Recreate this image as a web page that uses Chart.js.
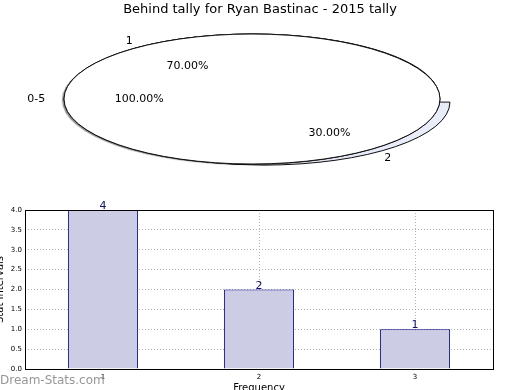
<!DOCTYPE html>
<html>
<head>
<meta charset="utf-8">
<script src="https://cdn.jsdelivr.net/npm/chart.js@4/dist/chart.umd.min.js"></script>
<style>
html,body{margin:0;padding:0;width:520px;height:390px;overflow:hidden;background:#fff;}
canvas{position:absolute;}
#pieC,#pieA,#pieB{left:0;top:0;}
#bars{left:-6px;top:195px;}
</style>
</head>
<body>
<canvas id="bars" width="526" height="205"></canvas>
<canvas id="pieC" width="520" height="200"></canvas>
<canvas id="pieA" width="520" height="200"></canvas>
<canvas id="pieB" width="520" height="200"></canvas>
<script>
// ---- data ----
const chartTitle = 'Behind tally for Ryan Bastinac - 2015 tally';
const pieBaseLabels = ['0-5'];
const pieBaseValues = [100];
const pieOverLabels = ['1'];
const pieOverValues = [100];
const pieLabels = ['1', '2'];
const pieValues = [70, 30];
const pieExplode = [0, 0.1];
const barCategories = ['1', '2', '3'];
const barValues = [4, 2, 1];
const yTickStep = 0.5;
const yMax = 4;
const xAxisTitle = 'Frequency';
const yAxisTitle = 'Stat Intervals';
const watermark = 'Dream-Stats.com';

Chart.defaults.font.family = '"DejaVu Sans", sans-serif';
Chart.defaults.color = '#000';

const PIE_R = 100;
const pieViews = [];

function ellipseView(view) {
  return {
    id: 'ellipseView',
    beforeDatasetsDraw(chart) {
      const ctx = chart.ctx;
      const el = chart.getDatasetMeta(0).data[0];
      ctx.save();
      ctx.translate(view.cx, view.cy);
      ctx.scale(view.rx / el.outerRadius, view.ry / el.outerRadius);
      ctx.translate(-el.x, -el.y);
      if (view.shadow) {
        ctx.shadowColor = 'rgba(0,0,0,0.45)';
        ctx.shadowOffsetX = -2;
        ctx.shadowOffsetY = 1;
        ctx.shadowBlur = 1;
      }
    },
    afterDatasetsDraw(chart) {
      const ctx = chart.ctx;
      ctx.restore();
      chart.getDatasetMeta(0).data.forEach(el => {
        const R = el.outerRadius;
        const mid = (el.startAngle + el.endAngle) / 2;
        const off = (el.options.offset || 0) / 4;
        const full = el.endAngle - el.startAngle >= Math.PI * 2 - 1e-6;
        ctx.save();
        ctx.translate(view.cx, view.cy);
        ctx.scale(view.rx / R, view.ry / R);
        ctx.translate(-el.x + Math.cos(mid) * off, -el.y + Math.sin(mid) * off);
        ctx.beginPath();
        if (!full) ctx.moveTo(el.x, el.y);
        ctx.arc(el.x, el.y, R, el.startAngle, el.endAngle);
        if (!full) ctx.closePath();
        ctx.restore();
        ctx.lineWidth = 1;
        ctx.strokeStyle = '#111';
        ctx.stroke();
      });
    }
  };
}

function makePie(id, labels, values, colors, rotation, explode, view) {
  const chart = new Chart(document.getElementById(id), {
    type: 'pie',
    data: {
      labels: labels,
      datasets: [{
        data: values,
        backgroundColor: colors,
        borderWidth: 0,
        offset: explode.map(e => e * PIE_R * 4),
        clip: false
      }]
    },
    options: {
      responsive: false,
      animation: false,
      devicePixelRatio: 1,
      radius: PIE_R,
      rotation: rotation,
      events: [],
      plugins: {
        legend: { display: false },
        tooltip: { enabled: false },
        title: view.title ? {
          display: true, text: chartTitle, color: '#000',
          font: { size: 13, weight: 'normal' }, padding: { top: 2, bottom: 0 }
        } : { display: false }
      }
    },
    plugins: [ellipseView(view)].concat(view.extra || [])
  });
  view.chart = chart;
  pieViews.push(view);
  return chart;
}

const pieLabelPlugin = {
  id: 'pieLabels',
  afterDraw(chart) {
    const ctx = chart.ctx;
    ctx.save();
    ctx.font = '11px "DejaVu Sans"';
    ctx.fillStyle = '#000';
    ctx.textBaseline = 'middle';
    pieViews.forEach(v => {
      const meta = v.chart.getDatasetMeta(0);
      const labels = v.chart.data.labels;
      const values = v.chart.data.datasets[0].data;
      const total = values.reduce((a, b) => a + b, 0);
      meta.data.forEach((el, i) => {
        const mid = (el.startAngle + el.endAngle) / 2;
        const ex = ((el.options.offset || 0) / 4) / el.outerRadius;
        const px = f => v.cx + (f + ex) * v.rx * Math.cos(mid);
        const py = f => v.cy + (f + ex) * v.ry * Math.sin(mid);
        ctx.textAlign = 'center';
        ctx.fillText((values[i] / total * 100).toFixed(2) + '%', px(0.6), py(0.6));
        ctx.textAlign = Math.cos(mid) > 0 ? 'left' : 'right';
        ctx.fillText(labels[i], px(1.1), py(1.1));
      });
    });
    ctx.restore();
  }
};

// bottom-most: two-slice pie (exploded slice peeks out)
makePie('pieC', pieLabels, pieValues, ['#ffffff', '#e8edf9'], 198, pieExplode,
  { cx: 253, cy: 97, rx: 186, ry: 63, shadow: false });
// 100% pies on top
makePie('pieA', pieBaseLabels, pieBaseValues, ['#ffffff'], 90, [0],
  { cx: 252, cy: 99, rx: 188, ry: 65, shadow: true });
makePie('pieB', pieOverLabels, pieOverValues, ['#ffffff'], 90, [0],
  { cx: 252, cy: 99, rx: 188, ry: 65, shadow: false, title: true, extra: [pieLabelPlugin] });

// ---- bar chart ----
const boxPlugin = {
  id: 'box',
  afterDraw(chart) {
    const ctx = chart.ctx;
    const ca = chart.chartArea;
    ctx.save();
    ctx.strokeStyle = '#000';
    ctx.lineWidth = 1;
    ctx.strokeRect(ca.left + 0.5, ca.top + 0.5, ca.right - ca.left, ca.bottom - ca.top);
    // value labels
    ctx.font = '11px "DejaVu Sans"';
    ctx.fillStyle = '#10106e';
    ctx.textAlign = 'center';
    ctx.textBaseline = 'alphabetic';
    const meta = chart.getDatasetMeta(0);
    meta.data.forEach((bar, i) => {
      ctx.fillText(String(chart.data.datasets[0].data[i]), bar.x, bar.y - 1);
    });
    // watermark
    ctx.font = '12px "DejaVu Sans"';
    ctx.fillStyle = '#979797';
    ctx.textAlign = 'left';
    ctx.fillText(watermark, 6, 189);
    ctx.restore();
  }
};

new Chart(document.getElementById('bars'), {
  type: 'bar',
  data: {
    labels: barCategories,
    datasets: [{
      data: barValues,
      backgroundColor: 'rgb(204,204,228)',
      borderColor: '#000080',
      borderWidth: 1,
      barPercentage: 0.45,
      categoryPercentage: 1
    }]
  },
  options: {
    responsive: false,
    animation: false,
    devicePixelRatio: 1,
    events: [],
    layout: { padding: { top: 15, right: 27, bottom: 0, left: 0 } },
    plugins: { legend: { display: false }, tooltip: { enabled: false } },
    scales: {
      x: {
        z: 1,
        offset: true,
        grid: { offset: false, color: '#b4b4b4', drawTicks: false },
        border: { display: false, dash: [1, 2] },
        ticks: { padding: 4, font: { size: 7 }, color: '#000' },
        title: { display: true, text: xAxisTitle, color: '#000', font: { size: 10 }, padding: { top: 0, bottom: 6 } },
        afterFit: s => { s.height = 31; }
      },
      y: {
        z: 1,
        min: 0,
        max: yMax,
        grid: { color: '#b4b4b4', drawTicks: false },
        border: { display: false, dash: [1, 2] },
        ticks: { stepSize: yTickStep, padding: 3, font: { size: 7 }, color: '#000', callback: v => Number(v).toFixed(1) },
        title: { display: true, text: yAxisTitle, color: '#000', font: { size: 10 }, padding: { top: 0, bottom: 0 } },
        afterFit: s => { s.width = 31; }
      }
    }
  },
  plugins: [boxPlugin]
});
</script>
</body>
</html>
